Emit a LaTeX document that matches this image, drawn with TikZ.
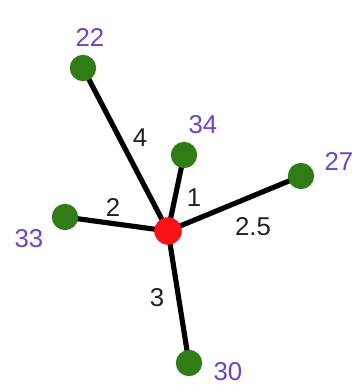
\documentclass[tikz,border=0pt]{standalone}
\usepackage{fontspec}
\setmainfont{Liberation Sans}
\usepackage{xcolor}
\definecolor{leafgreen}{HTML}{2F7D14}
\definecolor{hubred}{HTML}{F81414}
\definecolor{idpurple}{HTML}{6F42C8}
\definecolor{wtgray}{HTML}{222222}
\usepackage{tikz}
\usetikzlibrary{backgrounds}

\tikzset{
  leaf/.style={circle, fill=leafgreen, inner sep=0pt, minimum size=22.5},
  hub/.style={circle, fill=hubred, inner sep=0pt, minimum size=23.5},
  idlabel/.style={text=idpurple, font=\fontsize{22}{24}\selectfont},
  wlabel/.style={text=wtgray, font=\fontsize{22}{24}\selectfont},
  spoke/.style={line width=4.4pt, black},
}

\begin{document}
\begin{tikzpicture}[x=0.03cm, y=-0.03cm]
  \useasboundingbox (0,0) rectangle (361,385);
  % hub and leaves
  \node[hub]  (c)   at (168,231) {};
  \node[leaf] (n22) at (83,68)   {};
  \node[leaf] (n34) at (184,155) {};
  \node[leaf] (n27) at (301,176) {};
  \node[leaf] (n33) at (65,217)  {};
  \node[leaf] (n30) at (189,363) {};
  \begin{scope}[on background layer]
    \draw[spoke] (c.center) -- (n22.center);
    \draw[spoke] (c.center) -- (n34.center);
    \draw[spoke] (c.center) -- (n27.center);
    \draw[spoke] (c.center) -- (n33.center);
    \draw[spoke] (c.center) -- (n30.center);
  \end{scope}
  % ids
  \node[idlabel] (l22) at (90,37)   {22};
  \node[idlabel] (l34) at (203,125) {34};
  \node[idlabel] (l27) at (339,161) {27};
  \node[idlabel] (l33) at (29,239)  {33};
  \node[idlabel] (l30) at (228,372) {30};
  % weights
  \node[wlabel] (w4)  at (140,138) {4};
  \node[wlabel] (w1)  at (194,198) {1};
  \node[wlabel] (w25) at (253,227) {2.5};
  \node[wlabel] (w2)  at (113,207) {2};
  \node[wlabel] (w3)  at (157,298) {3};
\end{tikzpicture}
\end{document}
